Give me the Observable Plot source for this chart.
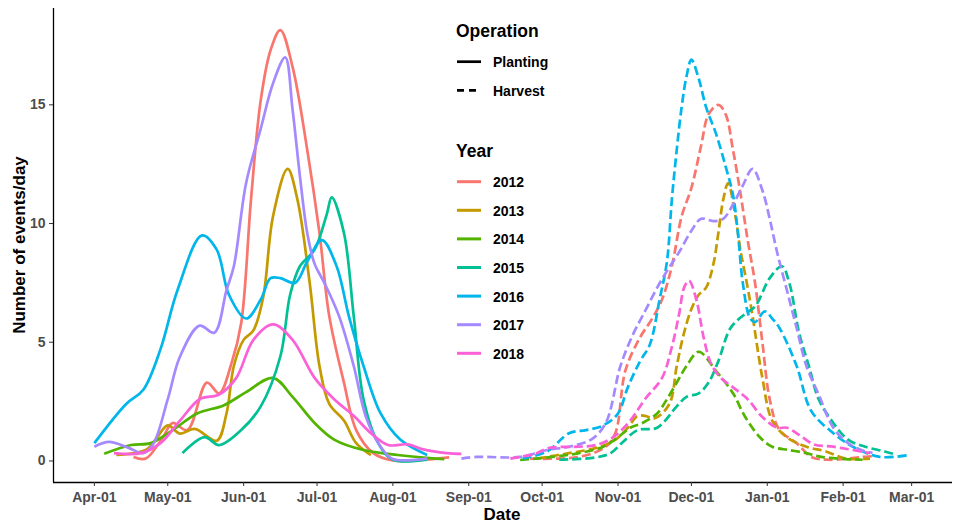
<!DOCTYPE html>
<html><head><meta charset="utf-8">
<script src="https://cdn.jsdelivr.net/npm/d3@7"></script>
<script src="https://cdn.jsdelivr.net/npm/@observablehq/plot@0.6"></script>
<style>
body{margin:0;background:#fff;}
#chart{width:959px;height:524px;}
#chart svg{font-family:'Liberation Sans',Arial,sans-serif;}
#chart svg [aria-label$="tick label"] text{font-weight:bold;}
</style></head><body><div id="chart"></div>
<script>
const years = ["2012","2013","2014","2015","2016","2017","2018"];
const yearColors = ["#F8766D","#C49A00","#53B400","#00C094","#00B6EB","#A58AFF","#FB61D7"];
const operations = ["Planting","Harvest"];
const xTickLabels = ["04-01","05-01","06-01","07-01","08-01","09-01","10-01","11-01","12-01","01-01","02-01","03-01"];
const yTicks = [0,5,10,15];

const planting2012 = [["04-17",0.17],["04-22",0.1],["04-29",1.0],["05-03",1.6],["05-09",1.3],["05-17",3.3],["05-22",2.85],["05-27",4.1],["05-31",5.8],["06-04",11.0],["06-08",15.2],["06-12",17.3],["06-16",18.15],["06-21",16.6],["06-27",13.1],["07-02",9.6],["07-06",6.1],["07-12",3.3],["07-17",1.3],["07-24",0.33],["08-01",0.02],["08-14",0.05],["08-24",0.15]];
const planting2013 = [["04-10",0.25],["04-22",0.46],["04-26",0.9],["05-01",1.5],["05-06",1.15],["05-12",1.35],["05-21",0.85],["05-25",2.0],["05-28",4.0],["06-01",5.1],["06-05",5.5],["06-09",6.9],["06-13",10.3],["06-19",12.3],["06-23",11.0],["06-28",7.5],["07-02",4.0],["07-06",2.4],["07-12",1.7],["07-17",0.75],["07-23",0.25]];
const planting2014 = [["04-05",0.3],["04-16",0.67],["04-24",0.75],["05-03",1.3],["05-13",2.0],["05-24",2.35],["06-02",2.9],["06-13",3.5],["06-21",2.7],["06-30",1.6],["07-08",0.9],["07-20",0.46],["08-03",0.25],["08-16",0.12],["08-22",0.08]];
const planting2015 = [["05-07",0.33],["05-16",1.0],["05-22",0.67],["05-31",1.3],["06-08",2.3],["06-16",4.4],["06-20",7.0],["06-24",8.2],["06-30",8.9],["07-05",10.4],["07-07",11.1],["07-12",9.6],["07-16",6.1],["07-20",2.6],["07-26",0.75],["08-01",0.05],["08-15",0.05]];
const planting2016 = [["04-01",0.75],["04-14",2.4],["04-21",3.0],["04-28",4.7],["05-05",7.2],["05-15",9.5],["05-21",8.9],["05-26",7.0],["06-02",6.0],["06-08",6.8],["06-12",7.7],["06-16",7.7],["06-22",7.5],["06-27",8.4],["07-03",9.3],["07-09",8.2],["07-14",6.1],["07-20",4.0],["07-27",2.0],["08-04",0.9],["08-15",0.25]];
const planting2017 = [["04-01",0.6],["04-07",0.8],["04-15",0.55],["04-21",0.33],["04-25",0.7],["05-01",2.6],["05-06",4.4],["05-14",5.7],["05-20",5.4],["05-25",7.2],["05-28",8.2],["06-02",11.7],["06-08",14.0],["06-13",15.9],["06-18",17.0],["06-21",14.8],["06-24",12.0],["06-27",9.6],["06-30",8.3],["07-04",7.5],["07-10",6.1],["07-16",4.0],["07-21",1.85],["07-27",0.6],["08-01",0.08],["08-15",0.1]];
const planting2018 = [["04-09",0.33],["04-20",0.33],["04-28",0.75],["05-06",1.7],["05-14",2.6],["05-22",2.8],["05-29",3.5],["06-05",5.1],["06-13",5.75],["06-21",5.1],["06-30",3.5],["07-08",2.6],["07-16",1.9],["07-23",1.17],["07-30",0.67],["08-07",0.7],["08-13",0.5],["08-23",0.33],["08-29",0.3]];

const harvest2012 = [["09-26",0.1],["10-16",0.17],["10-27",0.6],["10-31",1.2],["11-04",3.8],["11-10",5.2],["11-15",6.0],["11-19",6.8],["11-23",8.2],["11-27",10.3],["12-01",11.5],["12-05",13.3],["12-08",14.6],["12-12",15.0],["12-15",14.6],["12-18",13.1],["12-21",11.3],["12-24",9.3],["12-27",7.5],["12-30",5.0],["01-02",2.6],["01-06",1.3],["01-13",0.75],["01-19",0.17],["01-26",0.05],["02-09",0.17],["02-13",0.2]];
const harvest2013 = [["09-29",0.1],["10-12",0.33],["10-23",0.55],["10-31",0.9],["11-05",1.4],["11-09",1.9],["11-12",1.9],["11-16",1.8],["11-22",2.4],["11-25",4.0],["11-28",5.4],["12-01",6.4],["12-04",7.0],["12-07",7.3],["12-10",8.3],["12-12",9.6],["12-14",11.0],["12-16",11.7],["12-19",10.3],["12-21",8.9],["12-24",7.3],["12-26",6.1],["12-30",3.5],["01-03",1.7],["01-09",1.0],["01-17",0.6],["01-25",0.4],["02-02",0.1],["02-12",0.1]];
const harvest2014 = [["09-22",0.04],["10-05",0.17],["10-16",0.33],["10-26",0.6],["11-01",1.0],["11-06",1.4],["11-11",1.6],["11-17",2.0],["11-21",2.6],["11-25",3.3],["11-29",4.0],["12-04",4.6],["12-11",3.8],["12-18",2.85],["12-23",1.85],["12-29",1.0],["01-03",0.6],["01-10",0.46],["01-17",0.33],["01-23",0.17],["02-02",0.08],["02-09",0.05]];
const harvest2015 = [["10-08",0.05],["10-23",0.15],["10-29",0.33],["11-03",0.8],["11-09",1.3],["11-17",1.4],["11-25",2.3],["11-29",2.7],["12-04",2.85],["12-08",3.3],["12-12",4.2],["12-17",5.6],["12-23",6.2],["12-27",6.5],["01-02",7.7],["01-07",8.2],["01-10",7.5],["01-14",5.4],["01-18",4.0],["01-22",2.6],["01-28",1.6],["02-03",0.9],["02-10",0.6],["02-18",0.4],["02-23",0.25]];
const harvest2016 = [["09-23",0.1],["10-03",0.4],["10-12",1.17],["10-19",1.3],["10-26",1.5],["11-01",2.0],["11-05",3.1],["11-10",4.2],["11-14",4.9],["11-18",6.8],["11-21",8.4],["11-23",11.0],["11-25",13.1],["11-27",14.9],["11-29",16.2],["12-01",16.9],["12-04",16.1],["12-07",14.9],["12-11",13.8],["12-15",12.4],["12-18",11.2],["12-20",9.6],["12-22",7.5],["12-25",6.0],["12-27",5.85],["12-31",6.3],["01-03",6.0],["01-06",5.6],["01-13",4.0],["01-19",2.1],["01-28",1.17],["02-05",0.6],["02-16",0.17],["02-28",0.25]];
const harvest2017 = [["08-29",0.1],["09-04",0.17],["09-22",0.17],["10-03",0.46],["10-12",0.6],["10-21",0.9],["10-27",1.6],["11-02",4.0],["11-07",5.3],["11-12",6.3],["11-17",7.3],["11-21",8.0],["11-26",8.8],["12-01",9.7],["12-05",10.2],["12-10",10.1],["12-14",10.2],["12-18",10.8],["12-22",11.6],["12-26",12.3],["12-30",11.4],["01-02",10.2],["01-05",8.8],["01-09",7.2],["01-13",5.6],["01-17",4.0],["01-22",2.8],["01-28",1.4],["02-03",0.75],["02-10",0.4],["02-13",0.35]];
const harvest2018 = [["09-18",0.1],["09-28",0.3],["10-04",0.55],["10-16",0.6],["10-23",0.67],["10-30",1.0],["11-06",1.7],["11-12",2.6],["11-19",3.5],["11-23",4.8],["11-26",6.2],["11-28",7.3],["11-30",7.6],["12-03",6.8],["12-06",5.2],["12-09",4.1],["12-13",3.5],["12-18",3.1],["12-24",2.6],["12-30",1.85],["01-05",1.4],["01-09",1.4],["01-14",1.1],["01-20",0.7],["01-28",0.6],["02-05",0.46],["02-12",0.33]];

const FONT = "'Liberation Sans', Arial, sans-serif";
const toDate = md => { const [m, d] = md.split("-").map(Number); return new Date(Date.UTC(m >= 4 ? 2000 : 2001, m - 1, d)); };

const seriesList = [
  ["2012","Planting",planting2012],["2013","Planting",planting2013],["2014","Planting",planting2014],
  ["2015","Planting",planting2015],["2016","Planting",planting2016],["2017","Planting",planting2017],["2018","Planting",planting2018],
  ["2012","Harvest",harvest2012],["2013","Harvest",harvest2013],["2014","Harvest",harvest2014],
  ["2015","Harvest",harvest2015],["2016","Harvest",harvest2016],["2017","Harvest",harvest2017],["2018","Harvest",harvest2018]
];
const rows = seriesList.flatMap(([year, op, pts]) => pts.map(([md, v]) => ({year, op, key: year + op, date: toDate(md), value: v})));

const apr1 = toDate("04-01"), mar1 = toDate("03-01");
const span = mar1 - apr1;
const xDomain = [new Date(+apr1 - 0.05 * span), new Date(+mar1 + 0.05 * span)];
const yMax = d3.max(rows, r => r.value);
const yDomain = [-0.05 * yMax, yMax * 1.05];

const plot = Plot.plot({
  width: 959, height: 524,
  marginLeft: 53, marginRight: 7, marginTop: 8, marginBottom: 42,
  style: {fontFamily: FONT, background: "#fff", overflow: "visible"},
  x: {type: "utc", domain: xDomain},
  y: {domain: yDomain},
  color: {domain: years, range: yearColors},
  marks: [
    Plot.line(rows.filter(r => r.op === "Planting"), {x: "date", y: "value", z: "key", stroke: "year", strokeWidth: 2.7, curve: "catmull-rom", strokeLinecap: "butt"}),
    Plot.line(rows.filter(r => r.op === "Harvest"), {x: "date", y: "value", z: "key", stroke: "year", strokeWidth: 2.7, curve: "catmull-rom", strokeDasharray: "9,4", strokeLinecap: "butt"}),
    Plot.ruleY([yDomain[0]], {stroke: "#000", strokeWidth: 1.3}),
    Plot.ruleX([xDomain[0]], {stroke: "#000", strokeWidth: 1.3}),
    Plot.axisX(xTickLabels.map(toDate), {tickSize: 4, tickPadding: 6, tickFormat: d3.utcFormat("%b-%d"), fontSize: 14, fontWeight: "bold", fill: "#4D4D4D", stroke: "#333", label: null}),
    Plot.axisY(yTicks, {tickSize: 4, tickPadding: 4, fontSize: 14, fontWeight: "bold", fill: "#4D4D4D", stroke: "#333", label: null})
  ]
});

const svg = d3.select(plot);
const g = svg.append("g").attr("font-family", FONT).attr("font-weight", "bold").attr("fill", "#000").attr("text-anchor", "start");
// axis titles
g.append("text").attr("x", 502).attr("y", 520).attr("text-anchor", "middle").attr("font-size", 17).text("Date");
g.append("text").attr("transform", "translate(25,245) rotate(-90)").attr("text-anchor", "middle").attr("font-size", 17).text("Number of events/day");
// legend: operation
g.append("text").attr("x", 456).attr("y", 37).attr("font-size", 17.5).text("Operation");
operations.forEach((op, i) => {
  const y = 61.7 + i * 28.6;
  g.append("line").attr("x1", 457).attr("x2", 481).attr("y1", y).attr("y2", y)
    .attr("stroke", "#000").attr("stroke-width", 2.7).attr("stroke-dasharray", i ? "7,5" : null);
  g.append("text").attr("x", 493).attr("y", y + 5.5).attr("font-size", 14).text(op);
});
// legend: year
g.append("text").attr("x", 456).attr("y", 157).attr("font-size", 17.5).text("Year");
years.forEach((yr, i) => {
  const y = 181.7 + i * 28.6;
  g.append("line").attr("x1", 457).attr("x2", 481).attr("y1", y).attr("y2", y)
    .attr("stroke", yearColors[i]).attr("stroke-width", 3);
  g.append("text").attr("x", 493).attr("y", y + 5.5).attr("font-size", 14).text(yr);
});

document.getElementById("chart").append(plot);
</script>
</body></html>
